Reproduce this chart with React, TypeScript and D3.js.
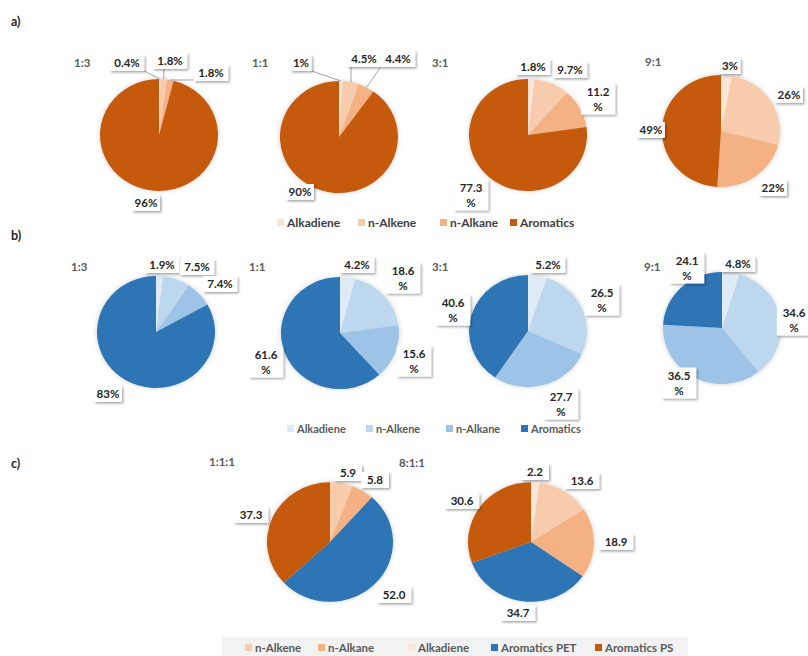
import React from "react";
import * as d3 from "d3";

// colours used by the source figure
const ORANGE = ["#fbe5d6", "#f8cbad", "#f4b183", "#c55a11"];
const BLUE = ["#deebf7", "#bdd7ee", "#9dc3e6", "#2e75b6"];

// a) orange set
const ratiosA = ["1:3", "1:1", "3:1", "9:1"];
const alkadieneA = [0.4, 1, 1.8, 3];
const alkeneA = [1.8, 4.5, 9.7, 26];
const alkaneA = [1.8, 4.4, 11.2, 22];
const aromaticsA = [96, 90, 77.3, 49];

// b) blue set
const ratiosB = ["1:3", "1:1", "3:1", "9:1"];
const alkadieneB = [1.9, 4.2, 5.2, 4.8];
const alkeneB = [7.5, 18.6, 26.5, 34.6];
const alkaneB = [7.4, 15.6, 27.7, 36.5];
const aromaticsB = [83, 61.6, 40.6, 24.1];

// c) mixed set
const ratiosC = ["1:1:1", "8:1:1"];
const alkadieneC = [0, 2.2];
const alkeneC = [5.9, 13.6];
const alkaneC = [5.8, 18.9];
const petC = [52.0, 34.7];
const psC = [37.3, 30.6];

const legendA = ["Alkadiene", "n-Alkene", "n-Alkane", "Aromatics"];
const legendC = ["n-Alkene", "n-Alkane", "Alkadiene", "Aromatics PET", "Aromatics PS"];

const FONT = "Lato, 'Open Sans', sans-serif";
const SY = 0.95; // the original pies are a bit squashed

type Lab = { dx: number; dy: number; wrap?: boolean; leader?: boolean };

// label box offsets from pie centre, per slice
const labA: Lab[][] = [
  [{ dx: -32, dy: -72, leader: true }, { dx: 11, dy: -74, leader: true }, { dx: 52, dy: -62, leader: true }, { dx: -13, dy: 68 }],
  [{ dx: -38, dy: -74, leader: true }, { dx: 25, dy: -78, leader: true }, { dx: 59, dy: -78, leader: true }, { dx: -39, dy: 55 }],
  [{ dx: 5, dy: -68 }, { dx: 42, dy: -65 }, { dx: 70, dy: -36, wrap: true }, { dx: -57, dy: 60, wrap: true }],
  [{ dx: 9, dy: -65 }, { dx: 68, dy: -36 }, { dx: 52, dy: 57 }, { dx: -70, dy: -1 }],
];
const labB: Lab[][] = [
  [{ dx: 6, dy: -67 }, { dx: 41, dy: -65 }, { dx: 64, dy: -48 }, { dx: -48, dy: 62 }],
  [{ dx: 17, dy: -68 }, { dx: 63, dy: -55, wrap: true }, { dx: 74, dy: 28, wrap: true }, { dx: -74, dy: 29, wrap: true }],
  [{ dx: 20, dy: -66 }, { dx: 74, dy: -31, wrap: true }, { dx: 33, dy: 73, wrap: true }, { dx: -75, dy: -21, wrap: true }],
  [{ dx: 16, dy: -64 }, { dx: 72, dy: -8, wrap: true }, { dx: -43, dy: 55, wrap: true }, { dx: -35, dy: -60, wrap: true }],
];
const labC: Lab[][] = [
  [null as any, { dx: 18, dy: -69 }, { dx: 45, dy: -62 }, { dx: 64, dy: 53 }, { dx: -79, dy: -27 }],
  [{ dx: 4, dy: -70 }, { dx: 51, dy: -61 }, { dx: 85, dy: 0 }, { dx: -13, dy: 71 }, { dx: -69, dy: -41 }],
];

type PieProps = {
  cx: number; cy: number; r: number; values: number[]; colors: string[];
  labels: Lab[]; fmt: (v: number) => string; title: string; tx: number; ty: number;
};

function Pie({ cx, cy, r, values, colors, labels, fmt, title, tx, ty }: PieProps) {
  const arcs = d3.pie<number>().sort(null).value((d) => d)(values);
  const arc = d3.arc<d3.PieArcDatum<number>>().innerRadius(0).outerRadius(r);
  return (
    <g>
      <text x={tx} y={ty} fontFamily={FONT} fontWeight="bold" fontSize={11.5} fill="#595959">{title}</text>
      <g transform={`translate(${cx},${cy}) scale(1,${SY})`} filter="url(#pieShadow)">
        {arcs.map((a, i) => a.value > 0 && (
          <path key={i} d={arc(a) || ""} fill={colors[i]} />
        ))}
      </g>
      {arcs.map((a, i) => {
        const l = labels[i];
        if (!l || a.value <= 0) return null;
        const txt = fmt(a.value);
        const main = l.wrap ? txt.replace("%", "") : txt;
        const w = main.length * 6.6 + 8;
        const h = l.wrap ? 31 : 16;
        const bx = cx + l.dx - w / 2;
        const by = cy + l.dy - h / 2;
        let leader = null;
        if (l.leader) {
          const m = (a.startAngle + a.endAngle) / 2;
          const px = cx + r * Math.sin(m);
          const py = cy - r * Math.cos(m) * SY;
          const qx = Math.max(bx, Math.min(bx + w, px));
          const qy = Math.max(by, Math.min(by + h, py));
          leader = <line x1={px} y1={py} x2={qx} y2={qy} stroke="#8c8c8c" strokeWidth={0.8} />;
        }
        return (
          <g key={"l" + i}>
            {leader}
            <rect x={bx} y={by} width={w} height={h} fill="#fff" filter="url(#boxShadow)" />
            <text x={cx + l.dx} y={by + 12} textAnchor="middle" fontFamily={FONT} fontWeight="bold" fontSize={11.5} fill="#262626">{main}</text>
            {l.wrap && (
              <text x={cx + l.dx} y={by + 27} textAnchor="middle" fontFamily={FONT} fontWeight="bold" fontSize={11.5} fill="#262626">%</text>
            )}
          </g>
        );
      })}
    </g>
  );
}

function Legend({ items, colors, xs, y, fill, size }: { items: string[]; colors: string[]; xs: number[]; y: number; fill: string; size: number }) {
  return (
    <g>
      {items.map((t, i) => (
        <g key={t}>
          <rect x={xs[i]} y={y - 4} width={7} height={7} fill={colors[i]} />
          <text x={xs[i] + 10} y={y + 3.5} fontFamily={FONT} fontWeight="bold" fontSize={size} fill={fill}>{t}</text>
        </g>
      ))}
    </g>
  );
}

export default function App() {
  const pct = (v: number) => `${v}%`;
  const one = (v: number) => v.toFixed(1);

  const centersA = [[159, 135], [339, 137], [528, 135], [721, 131]];
  const titlesA = [[74, 67], [252, 67], [432, 67], [645, 66]];
  const centersB = [[156, 332], [340, 333], [528, 331], [722, 328]];
  const titlesB = [[71, 271], [249, 271], [432, 271], [644, 271]];
  const centersC = [[330, 542], [531, 542]];
  const titlesC = [[209, 466], [399, 467]];

  return (
    <svg width={808} height={656} style={{ position: "absolute", left: 0, top: 0, background: "#fff" }}>
      <defs>
        <filter id="boxShadow" x="-30%" y="-30%" width="170%" height="170%">
          <feDropShadow dx={1.5} dy={1.5} stdDeviation={1} floodColor="#000" floodOpacity={0.35} />
        </filter>
        <filter id="pieShadow" x="-20%" y="-20%" width="140%" height="140%">
          <feDropShadow dx={0} dy={0} stdDeviation={2.5} floodColor="#000" floodOpacity={0.2} />
        </filter>
      </defs>

      <text x={11} y={26} fontFamily={FONT} fontWeight="bold" fontSize={12.5} fill="#262626">a)</text>
      <text x={11} y={240} fontFamily={FONT} fontWeight="bold" fontSize={12.5} fill="#262626">b)</text>
      <text x={11} y={468} fontFamily={FONT} fontWeight="bold" fontSize={12.5} fill="#262626">c)</text>

      {ratiosA.map((t, i) => (
        <Pie key={"a" + t} cx={centersA[i][0]} cy={centersA[i][1]} r={59}
          values={[alkadieneA[i], alkeneA[i], alkaneA[i], aromaticsA[i]]}
          colors={ORANGE} labels={labA[i]} fmt={pct} title={t} tx={titlesA[i][0]} ty={titlesA[i][1]} />
      ))}
      <Legend items={legendA} colors={ORANGE} xs={[277, 358, 440, 510]} y={223} fill="#404040" size={12} />

      {ratiosB.map((t, i) => (
        <Pie key={"b" + t} cx={centersB[i][0]} cy={centersB[i][1]} r={59}
          values={[alkadieneB[i], alkeneB[i], alkaneB[i], aromaticsB[i]]}
          colors={BLUE} labels={labB[i]} fmt={pct} title={t} tx={titlesB[i][0]} ty={titlesB[i][1]} />
      ))}
      <Legend items={legendA} colors={BLUE} xs={[287, 366, 446, 521]} y={429} fill="#595959" size={11} />

      {ratiosC.map((t, i) => (
        <Pie key={"c" + t} cx={centersC[i][0]} cy={centersC[i][1]} r={63}
          values={[alkadieneC[i], alkeneC[i], alkaneC[i], petC[i], psC[i]]}
          colors={[ORANGE[0], ORANGE[1], ORANGE[2], BLUE[3], ORANGE[3]]}
          labels={labC[i]} fmt={one} title={t} tx={titlesC[i][0]} ty={titlesC[i][1]} />
      ))}
      <rect x={222} y={637} width={466} height={19} fill="#f2f2f2" />
      <Legend items={legendC} colors={[ORANGE[1], ORANGE[2], ORANGE[0], BLUE[3], ORANGE[3]]}
        xs={[245, 318, 408, 491, 595]} y={648} fill="#595959" size={11.5} />
    </svg>
  );
}
